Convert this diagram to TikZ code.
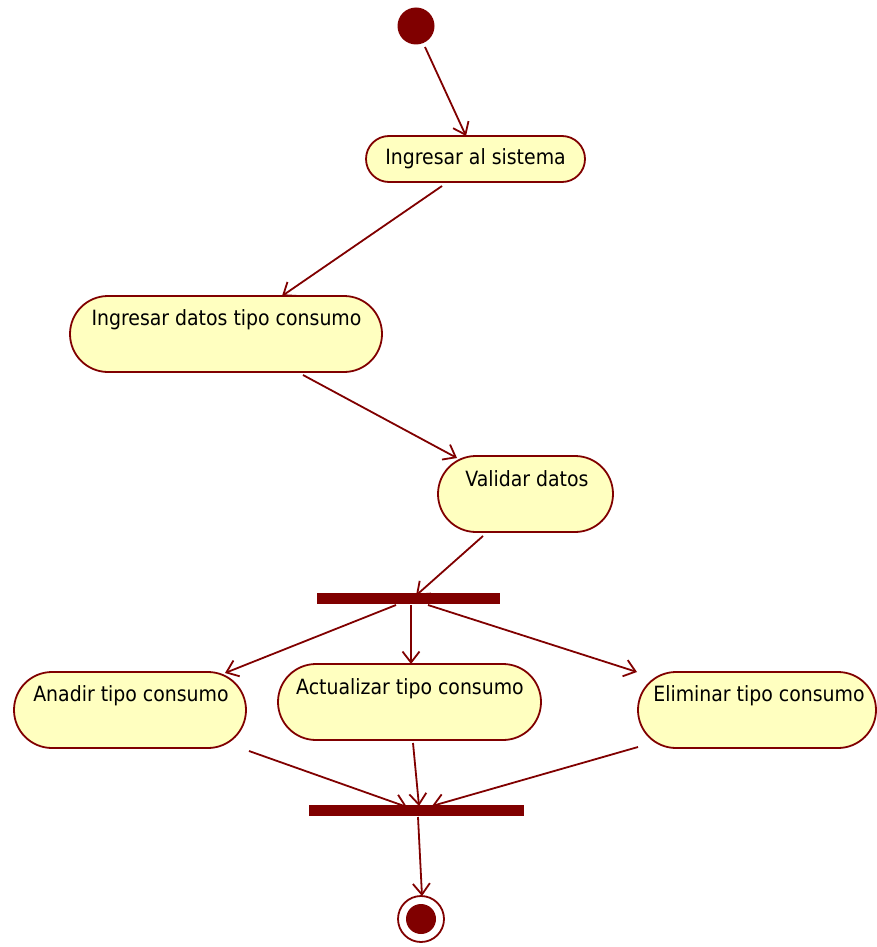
\documentclass[tikz,border=0pt]{standalone}
\usepackage{fontspec}
\setmainfont{DejaVu Sans Condensed}
\usetikzlibrary{arrows.meta,calc}
\definecolor{umlred}{RGB}{128,0,0}
\definecolor{umlfill}{RGB}{255,255,192}
\begin{document}
\begin{tikzpicture}[x=1pt,y=-1pt,
  act/.style={draw=umlred, fill=umlfill, line width=1.8pt, inner sep=0pt, shape=rectangle},
  lbl/.style={inner sep=0pt, font=\fontsize{21}{24}\selectfont, text=black},
  bar/.style={fill=umlred, inner sep=0pt, shape=rectangle},
  flow/.style={draw=umlred, line width=1.8pt, -{Straight Barb[length=11pt,width=17pt,line width=1.8pt]}}]
\useasboundingbox (0,0) rectangle (876,947);

% initial and final states
\node[circle, fill=umlred, minimum size=37pt, inner sep=0pt] (ini) at (416,26) {};
\node[circle, draw=umlred, line width=1.8pt, fill=white, minimum size=46pt, inner sep=0pt] (fin) at (421,919) {};
\node[circle, fill=umlred, minimum size=30pt, inner sep=0pt] (finc) at (fin) {};

% activities
\node[act, minimum width=219pt, minimum height=46pt, rounded corners=23pt] (s1) at (475.5,159) {};
\node[lbl] (s1t) at (475.5,159) {Ingresar al sistema};

\node[act, minimum width=312pt, minimum height=76pt, rounded corners=38pt] (s2) at (226,334) {};
\node[lbl] (s2t) at (226.5,319.5) {Ingresar datos tipo consumo};

\node[act, minimum width=175pt, minimum height=76pt, rounded corners=38pt] (s3) at (525.5,494) {};
\node[lbl] (s3t) at (527,479) {Validar datos};

\node[act, minimum width=232pt, minimum height=76pt, rounded corners=38pt] (a1) at (130,710) {};
\node[lbl] (a1t) at (131,695.5) {Anadir tipo consumo};

\node[act, minimum width=263pt, minimum height=76pt, rounded corners=38pt] (a2) at (409.5,702) {};
\node[lbl] (a2t) at (410,688.5) {Actualizar tipo consumo};

\node[act, minimum width=238pt, minimum height=76pt, rounded corners=38pt] (a3) at (757,710) {};
\node[lbl] (a3t) at (759,695.5) {Eliminar tipo consumo};

% fork and join bars
\node[bar, minimum width=183pt, minimum height=11pt] (fork) at (408.5,598.5) {};
\node[bar, minimum width=215pt, minimum height=11pt] (join) at (416.5,810.5) {};

% control flow
\draw[flow] ($(ini)+(9,21)$) -- ($(s1)+(-9.5,-23)$);
\draw[flow] ($(s1)+(-33.5,27)$) -- ($(s2)+(56,-38)$);
\draw[flow] ($(s2)+(77,41)$) -- ($(s3)+(-68.5,-36)$);
\draw[flow] ($(s3)+(-42.5,42)$) -- ($(fork)+(7.5,-3)$);
\draw[flow] ($(fork)+(-12.5,6.5)$) -- ($(a1)+(95,-37)$);
\draw[flow] ($(fork)+(2.5,6.5)$) -- ($(a2)+(1.5,-38)$);
\draw[flow] ($(fork)+(19.5,6.5)$) -- ($(a3)+(-120,-38)$);
\draw[flow] ($(a1)+(119,41)$) -- ($(join)+(-9.5,-3.5)$);
\draw[flow] ($(a2)+(3.5,41)$) -- ($(join)+(2.5,-4.5)$);
\draw[flow] ($(a3)+(-119,37)$) -- ($(join)+(15.5,-4.5)$);
\draw[flow] ($(join)+(1.5,6.5)$) -- ($(fin)+(1,-23)$);
\end{tikzpicture}
\end{document}
